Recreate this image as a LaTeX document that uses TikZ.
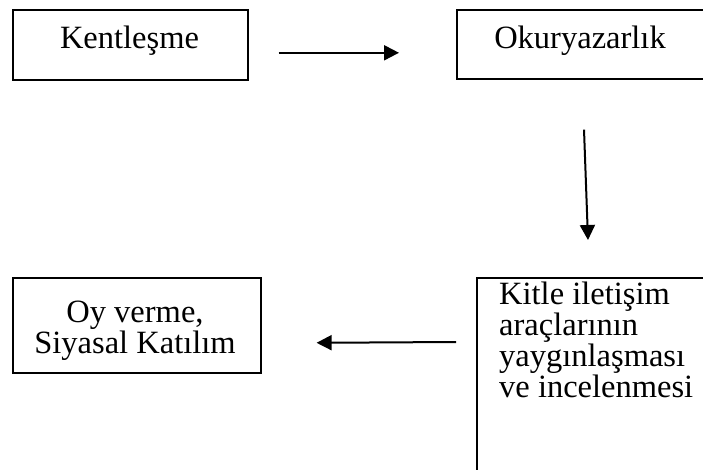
\documentclass[tikz,border=0pt]{standalone}
\usepackage{fontspec}
\setmainfont{Liberation Serif}
\usetikzlibrary{arrows.meta,calc}
\begin{document}
\begin{tikzpicture}[x=1pt,y=-1pt,
  box/.style={draw, line width=1.6pt, inner sep=0pt, anchor=north west},
  txt/.style={font=\fontsize{32.5}{31}\selectfont, inner sep=0pt},
  arr/.style={line width=2pt, -{Triangle[length=15pt,width=15pt]}}]
\useasboundingbox (0,0) rectangle (703,470);
\clip (0,0) rectangle (703,470);
% boxes
\node[box, minimum width=235pt, minimum height=70pt] (b1) at (12,9) {};
\node[box, minimum width=260pt, minimum height=69pt] (b2) at (456,9) {};
\node[box, minimum width=248pt, minimum height=95pt] (b3) at (12,277) {};
\node[box, minimum width=250pt, minimum height=220pt] (b4) at (476,277) {};
% texts
\node[txt, anchor=base] (t1) at (129.5,49) {Kentleşme};
\node[txt, anchor=base] (t2) at (580,49) {Okuryazarlık};
\node[txt, anchor=base, align=center] (t3) at (135,353) {Oy verme,\\Siyasal Katılım};
\node[txt, anchor=base west, align=left] (t4) at (499,397) {Kitle iletişim\\araçlarının\\yaygınlaşması\\ve incelenmesi};
% connectors
\draw[arr] ($(b1.east)+(30,8)$) -- ($(b2.west)+(-57,8.5)$);
\draw[arr] ($(b2.south west)+(128,50)$) -- ($(b4.north west)+(112,-37)$);
\draw[arr] ($(b4.north west)+(-20,65)$) -- ($(b3.east)+(55,17.5)$);
\end{tikzpicture}
\end{document}
